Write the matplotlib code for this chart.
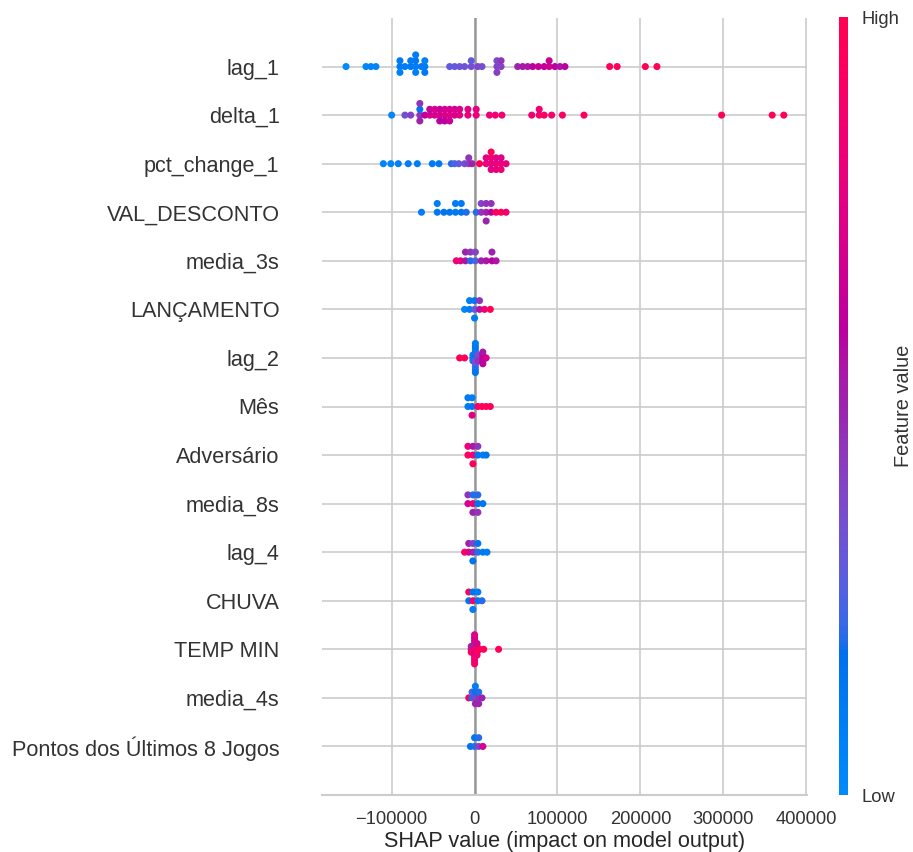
import numpy as np
import matplotlib
matplotlib.use("Agg")
import matplotlib.pyplot as plt
from matplotlib.colors import LinearSegmentedColormap, Normalize
from matplotlib.cm import ScalarMappable

plt.rcParams["font.family"] = ["Liberation Sans", "DejaVu Sans"]

# feature names, top to bottom (ordered by mean |SHAP|)
features = ["lag_1", "delta_1", "pct_change_1", "VAL_DESCONTO", "media_3s",
            "LANÇAMENTO", "lag_2", "Mês", "Adversário", "media_8s", "lag_4",
            "CHUVA", "TEMP MIN", "media_4s", "Pontos dos Últimos 8 Jogos"]

# SHAP values per feature and the (normalised) feature values used for colour
lag_1_shap = [-155000, -131000, -125000, -119000,
              -90000, -90000, -90000, -84000, -77000, -77000,
              -71000, -71000, -71000, -71000, -64000, -60000, -60000, -60000,
              -30000, -24000, -18000, -12000, -4000, -4000, 4000, 9000,
              27000, 27000, 27000, 32000, 32000,
              52000, 58000, 64000, 70000, 77000, 84000, 90000, 90000, 97000, 103000, 109000,
              163000, 172000, 206000, 220000]
lag_1_val = [0.0, 0.03, 0.05, 0.04,
             0.1, 0.12, 0.08, 0.1, 0.12, 0.1,
             0.1, 0.12, 0.08, 0.1, 0.12, 0.1, 0.08, 0.12,
             0.3, 0.3, 0.32, 0.33, 0.35, 0.3, 0.38, 0.35,
             0.4, 0.38, 0.42, 0.4, 0.45,
             0.5, 0.55, 0.55, 0.6, 0.65, 0.62, 0.7, 0.65, 0.6, 0.55, 0.6,
             0.95, 0.95, 0.97, 0.95]

delta_1_shap = [-100000, -84000, -77000,
                -66000, -66000, -66000, -66000,
                -60000, -54000, -54000, -48000, -48000, -42000, -42000, -42000,
                -36000, -36000, -36000, -30000, -30000, -30000, -24000, -24000, -18000, -18000,
                -8000, -8000, 2000, 2000,
                18000, 25000, 33000,
                69000, 78000, 78000, 84000, 93000,
                106000, 132000, 298000, 359000, 373000]
delta_1_val = [0.03, 0.35, 0.4,
               0.45, 0.15, 0.5, 0.45,
               0.6, 0.7, 0.65, 0.7, 0.72, 0.7, 0.65, 0.6,
               0.72, 0.7, 0.6, 0.75, 0.7, 0.65, 0.72, 0.7, 0.75, 0.72,
               0.8, 0.78, 0.82, 0.8,
               0.82, 0.85, 0.85,
               0.85, 0.88, 0.85, 0.9, 0.9,
               0.92, 0.95, 0.97, 0.97, 0.98]

pct_change_1_shap = [-110000, -101000, -92000, -80000, -69000, -51000, -43000,
                     -28000, -24000, -19000, -12000, -7000, -7000, -3000,
                     6000,
                     14000, 14000, 20000, 20000, 20000, 20000,
                     26000, 26000, 26000, 32000, 32000, 32000, 38000]
pct_change_1_val = [0.05, 0.05, 0.08, 0.1, 0.1, 0.12, 0.12,
                    0.2, 0.25, 0.3, 0.35, 0.4, 0.45, 0.5,
                    0.97,
                    0.8, 0.75, 0.8, 0.85, 0.75, 0.97,
                    0.8, 0.75, 0.8, 0.8, 0.75, 0.85, 0.8]

val_desconto_shap = [-64000,
                     -45000, -45000, -37000, -30000, -23000, -23000, -16000, -16000, -10000,
                     2000, 8000, 8000, 14000, 14000, 14000, 20000, 20000, 26000, 32000, 38000]
val_desconto_val = [0.1,
                    0.12, 0.1, 0.15, 0.15, 0.12, 0.1, 0.15, 0.12, 0.2,
                    0.2, 0.45, 0.4, 0.5, 0.45, 0.5, 0.6, 0.45, 0.95, 0.97, 0.85]

media_3s_shap = [-22000, -17000, -11000, -11000, -5000, -5000, 1000, 1000,
                 8000, 14000, 21000, 21000, 26000]
media_3s_val = [0.85, 0.8, 0.55, 0.5, 0.2, 0.45, 0.25, 0.4,
                0.5, 0.55, 0.6, 0.5, 0.55]

lancamento_shap = [-12000, -6000, -6000, 0, 0, 0, 6000, 6000, 12000, 19000]
lancamento_val = [0.05, 0.1, 0.1, 0.3, 0.15, 0.1, 0.55, 0.45, 0.85, 0.97]

lag_2_shap = [-18000, -12000, -2000, -2000, -2000,
              1000, 1000, 1000, 1000, 1000, 1000, 1000, 1000, 1000, 1000, 1000,
              4000, 4000, 4000,
              10000, 10000, 10000, 10000, 10000, 14000]
lag_2_val = [1.0, 0.95, 0.15, 0.1, 0.2,
             0.1, 0.15, 0.3, 0.2, 0.35, 0.1, 0.25, 0.15, 0.2, 0.1, 0.15,
             0.4, 0.35, 0.45,
             0.7, 0.6, 0.65, 0.55, 0.6, 0.7]

mes_shap = [-8000, -8000, -3000, -3000, -3000, 4000, 9000, 14000, 19000]
mes_val = [0.1, 0.12, 0.15, 0.1, 0.75, 0.9, 0.95, 0.97, 0.95]

adversario_shap = [-8000, -8000, -2000, -2000, -2000, 4000, 4000, 10000, 14000]
adversario_val = [0.95, 0.85, 0.85, 0.55, 0.95, 0.15, 0.45, 0.1, 0.15]

media_8s_shap = [-8000, -8000, -2000, -2000, -2000, 4000, 4000, 4000, 10000]
media_8s_val = [0.7, 0.45, 0.8, 0.2, 0.5, 0.15, 0.2, 0.45, 0.15]

lag_4_shap = [-12000, -7000, -7000, -2000, -2000, -2000, 4000, 4000, 10000, 15000]
lag_4_val = [0.9, 0.75, 0.5, 0.5, 0.4, 0.15, 0.2, 0.15, 0.1, 0.1]

chuva_shap = [-7000, -7000, -2000, -2000, -2000, 4000, 4000, 9000]
chuva_val = [0.15, 0.95, 0.9, 0.15, 0.1, 0.15, 0.1, 0.2]

temp_min_shap = [-4000, -4000, -4000,
                 0, 0, 0, 0, 0, 0, 0, 0, 0, 0, 0,
                 3000, 3000, 3000, 3000, 3000,
                 6000, 11000, 29000]
temp_min_val = [0.75, 0.5, 0.95,
                0.75, 0.95, 0.7, 0.5, 0.8, 0.75, 0.95, 0.7, 0.8, 0.75, 0.9,
                0.75, 0.8, 0.95, 0.7, 0.85,
                0.95, 0.95, 0.95]

media_4s_shap = [-7000, -3000, -3000, 1000, 1000, 1000, 1000, 5000, 5000, 5000, 9000]
media_4s_val = [0.9, 0.2, 0.25, 0.4, 0.15, 0.5, 0.1, 0.45, 0.2, 0.5, 0.5]

pontos_shap = [-5000, 0, 0, 5000, 5000, 10000]
pontos_val = [0.15, 0.2, 0.15, 0.4, 0.2, 0.7]

rows = [
    (lag_1_shap, lag_1_val), (delta_1_shap, delta_1_val),
    (pct_change_1_shap, pct_change_1_val), (val_desconto_shap, val_desconto_val),
    (media_3s_shap, media_3s_val), (lancamento_shap, lancamento_val),
    (lag_2_shap, lag_2_val), (mes_shap, mes_val),
    (adversario_shap, adversario_val), (media_8s_shap, media_8s_val),
    (lag_4_shap, lag_4_val), (chuva_shap, chuva_val),
    (temp_min_shap, temp_min_val), (media_4s_shap, media_4s_val),
    (pontos_shap, pontos_val),
]

xticks = [-100000, 0, 100000, 200000, 300000, 400000]


# ---- SHAP style red/blue colormap (interpolated in LCh space) ----
def lab_to_rgb(L, a, b):
    fy = (L + 16.0) / 116.0
    fx = a / 500.0 + fy
    fz = fy - b / 200.0

    def finv(f):
        return np.where(f ** 3 > 0.008856, f ** 3, (f - 16.0 / 116.0) / 7.787)

    X = 0.95047 * finv(fx)
    Y = 1.00000 * finv(fy)
    Z = 1.08883 * finv(fz)
    M = np.array([[3.2404542, -1.5371385, -0.4985314],
                  [-0.9692660, 1.8760108, 0.0415560],
                  [0.0556434, -0.2040259, 1.0572252]])
    lin = M @ np.array([X, Y, Z])
    rgb = np.where(lin > 0.0031308, 1.055 * np.abs(lin) ** (1 / 2.4) - 0.055, 12.92 * lin)
    return np.clip(rgb, 0, 1)


blue_lch = [54.0, 70.0, 4.6588]
red_lch = [54.0, 90.0, 0.35470565 + 2 * np.pi]
l_mid = 40.0
nsteps = 100
l_vals = list(np.linspace(blue_lch[0], l_mid, nsteps // 2)) + list(np.linspace(l_mid, red_lch[0], nsteps // 2))
c_vals = np.linspace(blue_lch[1], red_lch[1], nsteps)
h_vals = np.linspace(blue_lch[2], red_lch[2], nsteps)
cols = [lab_to_rgb(l, c * np.cos(h), c * np.sin(h)) for l, c, h in zip(l_vals, c_vals, h_vals)]
red_blue = LinearSegmentedColormap.from_list("red_blue", list(zip(np.linspace(0, 1, nsteps), cols)))


def swarm_offsets(shaps, row_height=0.4, nbins=100):
    shaps = np.asarray(shaps, dtype=float)
    n = len(shaps)
    quant = np.round(nbins * (shaps - shaps.min()) / (shaps.max() - shaps.min() + 1e-8))
    order = np.argsort(quant, kind="stable")
    ys = np.zeros(n)
    layer, last_bin = 0, -1
    for ind in order:
        if quant[ind] != last_bin:
            layer = 0
        ys[ind] = np.ceil(layer / 2) * ((layer % 2) * 2 - 1)
        layer += 1
        last_bin = quant[ind]
    ys *= 0.9 * (row_height / np.max(ys + 1))
    return ys


W, H, DPI = 913, 852, 120
fig = plt.figure(figsize=(W / DPI, H / DPI), dpi=DPI)
fig.patch.set_facecolor("white")

ax = fig.add_axes([322 / W, 1 - 795 / H, (807 - 322) / W, (795 - 18) / H])
ax.set_facecolor("white")

n = len(features)
for i, (shap_vals, feat_vals) in enumerate(rows):
    pos = n - 1 - i
    ys = swarm_offsets(shap_vals)
    ax.scatter(shap_vals, pos + ys, c=feat_vals, cmap=red_blue, vmin=0, vmax=1,
               s=18, alpha=1, linewidth=0, zorder=3, rasterized=True)

ax.axvline(0, color="#999999", lw=1.5, zorder=1)
ax.grid(True, color="#cccccc", linewidth=1, zorder=0)
ax.set_axisbelow(True)

ax.set_yticks(range(n))
ax.set_yticklabels(features[::-1], fontsize=13)
ax.set_ylim(-1, n)
ax.set_xticks(xticks)
ax.set_xticklabels([f"{t}".replace("-", "\u2212") for t in xticks])
ax.set_xlim(-184000, 401000)

ax.tick_params(axis="y", length=0, pad=25.5, labelcolor="#333333")
ax.tick_params(axis="x", length=0, pad=9.5, labelsize=11, labelcolor="#333333")
for side in ("top", "right", "left"):
    ax.spines[side].set_visible(False)
ax.spines["bottom"].set_color("#cccccc")
ax.spines["bottom"].set_linewidth(1.25)
ax.set_xlabel("SHAP value (impact on model output)", fontsize=13, color="#262626", labelpad=1.6)

# colour bar
cax = fig.add_axes([839 / W, 1 - 795 / H, 9 / W, (795 - 17) / H])
sm = ScalarMappable(norm=Normalize(0, 1), cmap=red_blue)
sm.set_array([0, 1])
cb = fig.colorbar(sm, cax=cax, ticks=[0, 1])
cb.set_ticklabels(["Low", "High"])
cb.ax.tick_params(labelsize=11, length=0, pad=8, labelcolor="#333333")
cb.set_label("Feature value", size=12, labelpad=-3, color="#333333")
cb.outline.set_visible(False)

fig.savefig("out.png", dpi=DPI, facecolor="white")
